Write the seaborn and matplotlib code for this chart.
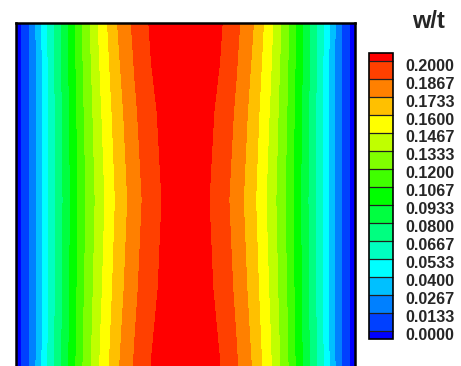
import numpy as np
import matplotlib
matplotlib.use("Agg")
import matplotlib.pyplot as plt
import matplotlib.transforms as mtransforms
from matplotlib.colors import ListedColormap
import seaborn as sns

# ---------------- data ----------------
levels = [0.0000, 0.0133, 0.0267, 0.0400, 0.0533, 0.0667, 0.0800, 0.0933,
          0.1067, 0.1200, 0.1333, 0.1467, 0.1600, 0.1733, 0.1867, 0.2000]
tick_labels = ["0.0000", "0.0133", "0.0267", "0.0400", "0.0533", "0.0667",
               "0.0800", "0.0933", "0.1067", "0.1200", "0.1333", "0.1467",
               "0.1600", "0.1733", "0.1867", "0.2000"]
band_colors = ["#0040FF", "#0080FF", "#00C0FF", "#00FFFF", "#00FFC0",
               "#00FF80", "#00FF40", "#00FF00", "#40FF00", "#80FF00",
               "#C0FF00", "#FFFF00", "#FFC000", "#FF8000", "#FF4000"]
under_color = "#0000FF"
over_color = "#FF0000"

x_pos = [0.00, 0.05, 0.10, 0.15, 0.20, 0.25, 0.30, 0.35, 0.40, 0.45, 0.50,
         0.55, 0.60, 0.65, 0.70, 0.75, 0.80, 0.85, 0.90, 0.95, 1.00]
y_pos = [0.00, 0.25, 0.50, 0.75, 1.00]

w_bottom = [-0.010, 0.020, 0.058, 0.090, 0.122, 0.149, 0.172, 0.1885, 0.2008, 0.2060, 0.2075,
            0.2060, 0.2008, 0.1885, 0.172, 0.149, 0.122, 0.090, 0.058, 0.020, -0.010]
w_lower = [-0.010, 0.0194, 0.0568, 0.0883, 0.1191, 0.1446, 0.1668, 0.1839, 0.1971, 0.2046, 0.2061,
           0.2046, 0.1971, 0.1839, 0.1668, 0.1446, 0.1191, 0.0883, 0.0568, 0.0194, -0.010]
w_mid = [-0.010, 0.019, 0.056, 0.087, 0.117, 0.1414, 0.163, 0.1805, 0.1945, 0.2035, 0.205,
         0.2035, 0.1945, 0.1805, 0.163, 0.1414, 0.117, 0.087, 0.056, 0.019, -0.010]
w_upper = [-0.010, 0.0194, 0.0568, 0.0887, 0.1195, 0.1454, 0.1674, 0.1845, 0.1977, 0.2048, 0.2063,
           0.2048, 0.1977, 0.1845, 0.1674, 0.1454, 0.1195, 0.0887, 0.0568, 0.0194, -0.010]
w_top = [-0.010, 0.020, 0.058, 0.091, 0.123, 0.151, 0.1735, 0.190, 0.202, 0.2065, 0.208,
         0.2065, 0.202, 0.190, 0.1735, 0.151, 0.123, 0.091, 0.058, 0.020, -0.010]

# ---------------- style ----------------
sns.set_style("white")
plt.rcParams["font.family"] = ["Liberation Sans", "DejaVu Sans"]
plt.rcParams["font.weight"] = "bold"

W, H, DPI = 461, 366, 100
fig = plt.figure(figsize=(W / DPI, H / DPI), dpi=DPI)

def fx(px):
    return px / W

def fy(py):
    return 1 - py / H

ax = fig.add_axes([fx(16), fy(377), fx(355) - fx(16), fy(23) - fy(377)])

Z = np.array([w_bottom, w_lower, w_mid, w_upper, w_top])
cmap = ListedColormap(sns.color_palette(band_colors).as_hex())
cmap.set_under(under_color)
cmap.set_over(over_color)

cf = ax.contourf(x_pos, y_pos, Z, levels=levels, cmap=cmap, extend="both",
                 vmin=levels[0], vmax=levels[-1], antialiased=False)
ax.set_xlim(0, 1)
ax.set_ylim(0, 1)
ax.set_xticks([])
ax.set_yticks([])
for s in ax.spines.values():
    s.set_visible(True)
    s.set_color("black")
    s.set_linewidth(1.8)

# colorbar
cax = fig.add_axes([fx(369), fy(339), fx(393) - fx(369), fy(52.7) - fy(339)])
cb = fig.colorbar(cf, cax=cax, extend="both", extendrect=True,
                  extendfrac=0.0314, drawedges=True, ticks=levels)
cb.outline.set_linewidth(1.2)
cb.outline.set_edgecolor("black")
cb.dividers.set_color("#202020")
cb.dividers.set_linewidth(0.9)
cax.set_yticks(levels)
cax.set_yticklabels(tick_labels)
cax.tick_params(axis="y", length=0, pad=8.8, labelsize=11.6)
offset = mtransforms.ScaledTranslation(0, -3.5 / DPI, fig.dpi_scale_trans)
for lab in cax.get_yticklabels():
    lab.set_fontweight("bold")
    lab.set_transform(lab.get_transform() + offset)

fig.text(fx(428.5), fy(21), "w/t", ha="center", va="center",
         fontsize=17, fontweight="bold")

fig.savefig("out.png", dpi=DPI)
